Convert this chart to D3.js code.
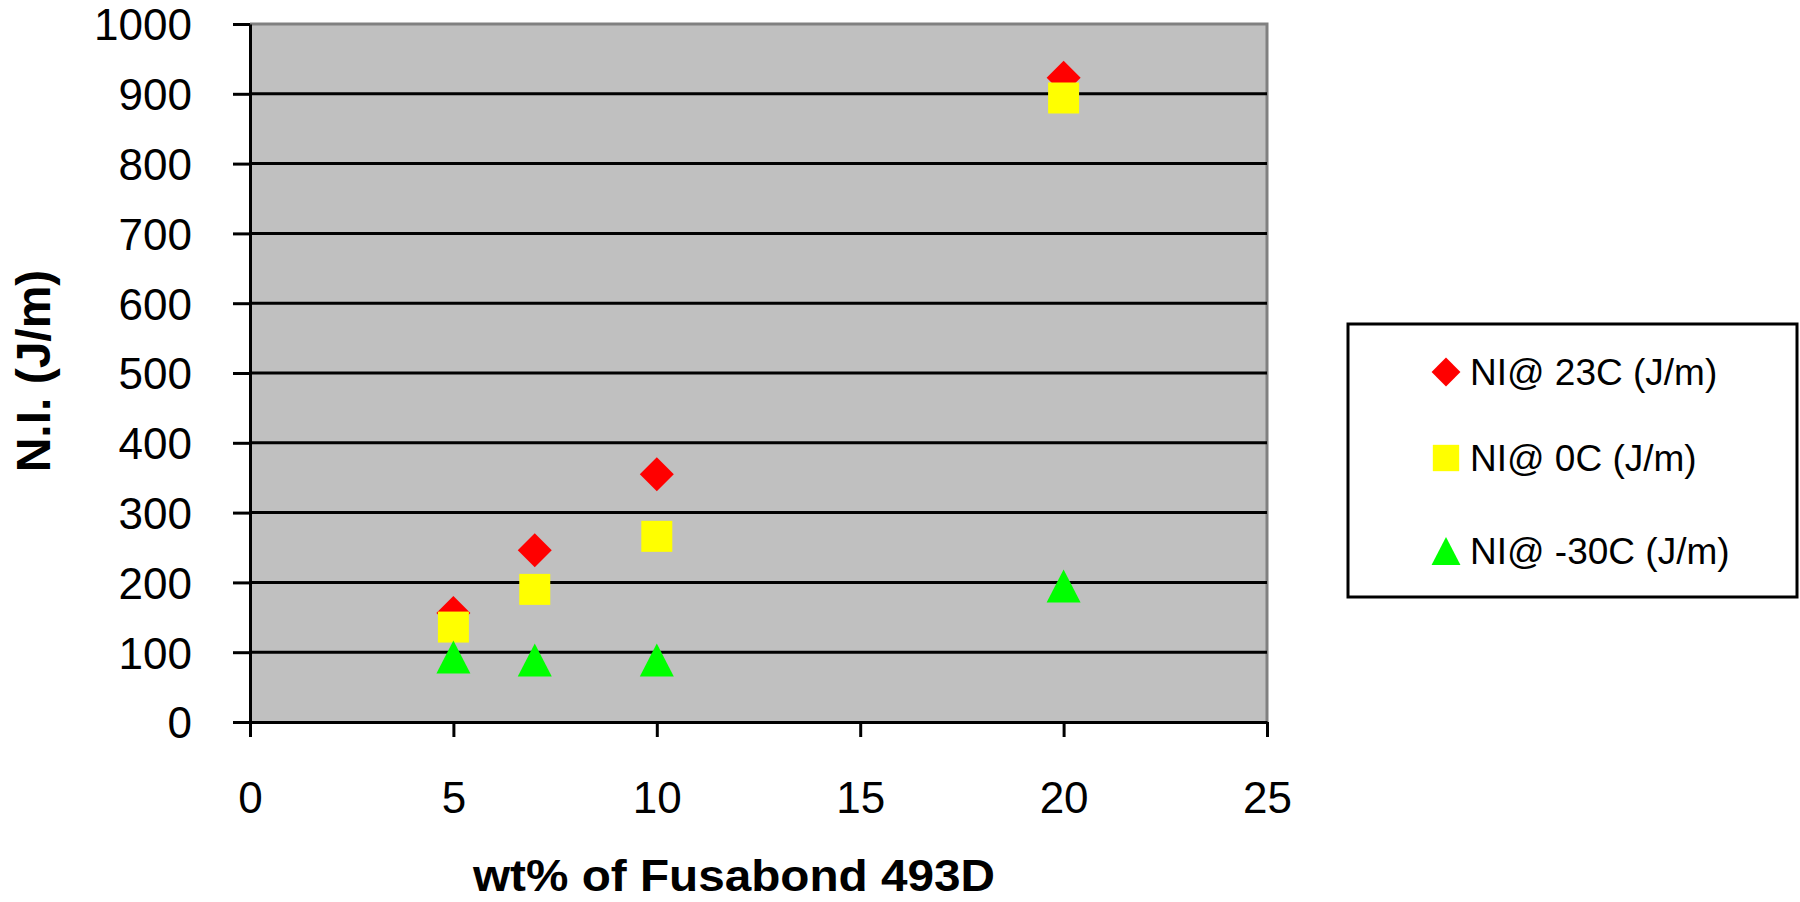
<!DOCTYPE html>
<html>
<head>
<meta charset="utf-8">
<script src="https://cdn.jsdelivr.net/npm/d3@7"></script>
<style>
  body { margin: 0; background: #fff; }
  svg { display: block; font-family: "Liberation Sans", Arial, sans-serif; }
</style>
</head>
<body>
<div id="chart"></div>
<script>
// data
const wtPercent = [5, 7, 10, 20];
const ni23 = [156, 246, 355, 923];
const ni0 = [136, 190, 266, 894];
const niMinus30 = [93, 89, 89, 195];
const seriesNames = ["NI@ 23C (J/m)", "NI@ 0C (J/m)", "NI@ -30C (J/m)"];
const xTicks = [0, 5, 10, 15, 20, 25];
const yTicks = [0, 100, 200, 300, 400, 500, 600, 700, 800, 900, 1000];

const W = 1800, H = 902;
const plot = { left: 250, top: 24, right: 1267, bottom: 722 };

// marker shapes, centred on their bounding box
const diamond = { draw(ctx) { const r = 17; ctx.moveTo(0, -r); ctx.lineTo(r, 0); ctx.lineTo(0, r); ctx.lineTo(-r, 0); ctx.closePath(); } };
const square = { draw(ctx) { const r = 15.5; ctx.rect(-r, -r, 2 * r, 2 * r); } };
const triangle = { draw(ctx) { const w = 17, h = 16.5; ctx.moveTo(0, -h); ctx.lineTo(w, h); ctx.lineTo(-w, h); ctx.closePath(); } };

const series = [
  { name: seriesNames[0], values: ni23, color: "#ff0000", shape: diamond },
  { name: seriesNames[1], values: ni0, color: "#ffff00", shape: square },
  { name: seriesNames[2], values: niMinus30, color: "#00ff00", shape: triangle },
];

const svg = d3.select("#chart").append("svg").attr("width", W).attr("height", H);

const x = d3.scaleLinear().domain([0, 25]).range([plot.left, plot.right]);
const y = d3.scaleLinear().domain([0, 1000]).range([plot.bottom, plot.top]);

// plot background
svg.append("rect")
  .attr("x", plot.left).attr("y", plot.top)
  .attr("width", plot.right - plot.left).attr("height", plot.bottom - plot.top)
  .attr("fill", "#c0c0c0");

// top/right border in gray
svg.append("path")
  .attr("d", `M${plot.left},${plot.top}H${plot.right}V${plot.bottom}`)
  .attr("fill", "none").attr("stroke", "#808080").attr("stroke-width", 3);

// gridlines
svg.selectAll(".grid")
  .data(yTicks.filter((d) => d > 0 && d < 1000))
  .enter().append("line")
  .attr("x1", plot.left).attr("x2", plot.right)
  .attr("y1", (d) => y(d)).attr("y2", (d) => y(d))
  .attr("stroke", "#000").attr("stroke-width", 3);

// y axis
const yAxis = svg.append("g")
  .attr("transform", `translate(${plot.left},0)`)
  .call(d3.axisLeft(y).tickValues(yTicks).tickFormat(d3.format("d"))
    .tickSize(17).tickPadding(41).tickSizeOuter(0));
yAxis.select(".domain").attr("stroke-width", 3);
yAxis.selectAll(".tick line").attr("stroke-width", 3);
yAxis.selectAll(".tick text")
  .attr("font-size", 44).attr("font-family", "Liberation Sans, Arial, sans-serif")
  .attr("fill", "#000").attr("dy", "0.36em");

// x axis
const xAxis = svg.append("g")
  .attr("transform", `translate(0,${plot.bottom})`)
  .call(d3.axisBottom(x).tickValues(xTicks).tickFormat(d3.format("d"))
    .tickSize(15).tickPadding(45).tickSizeOuter(0));
xAxis.select(".domain").attr("stroke-width", 3);
xAxis.selectAll(".tick line").attr("stroke-width", 3);
xAxis.selectAll(".tick text")
  .attr("font-size", 44).attr("font-family", "Liberation Sans, Arial, sans-serif")
  .attr("fill", "#000");

// markers
series.forEach((s) => {
  svg.selectAll(null)
    .data(wtPercent.map((w, i) => ({ w, v: s.values[i] })))
    .enter().append("path")
    .attr("d", d3.symbol().type(s.shape)())
    .attr("transform", (d) => `translate(${x(d.w)},${y(d.v)})`)
    .attr("fill", s.color);
});

// axis titles
svg.append("text")
  .attr("x", 734).attr("y", 891)
  .attr("text-anchor", "middle")
  .attr("font-size", 44).attr("font-weight", "700")
  .attr("textLength", 522).attr("lengthAdjust", "spacingAndGlyphs")
  .text("wt% of Fusabond 493D");

svg.append("text")
  .attr("transform", "translate(50,371) rotate(-90)")
  .attr("text-anchor", "middle")
  .attr("font-size", 48).attr("font-weight", "700")
  .text("N.I. (J/m)");

// legend
const legend = svg.append("g");
legend.append("rect")
  .attr("x", 1348).attr("y", 324).attr("width", 449).attr("height", 273)
  .attr("fill", "#fff").attr("stroke", "#000").attr("stroke-width", 3);

const legendY = [372, 458, 551];
series.forEach((s, i) => {
  legend.append("path")
    .attr("d", d3.symbol().type(s.shape)())
    .attr("transform", `translate(1446,${legendY[i]}) scale(0.85)`)
    .attr("fill", s.color);
  legend.append("text")
    .attr("x", 1470).attr("y", legendY[i] + 13)
    .attr("font-size", 37)
    .text(s.name);
});
</script>
</body>
</html>
